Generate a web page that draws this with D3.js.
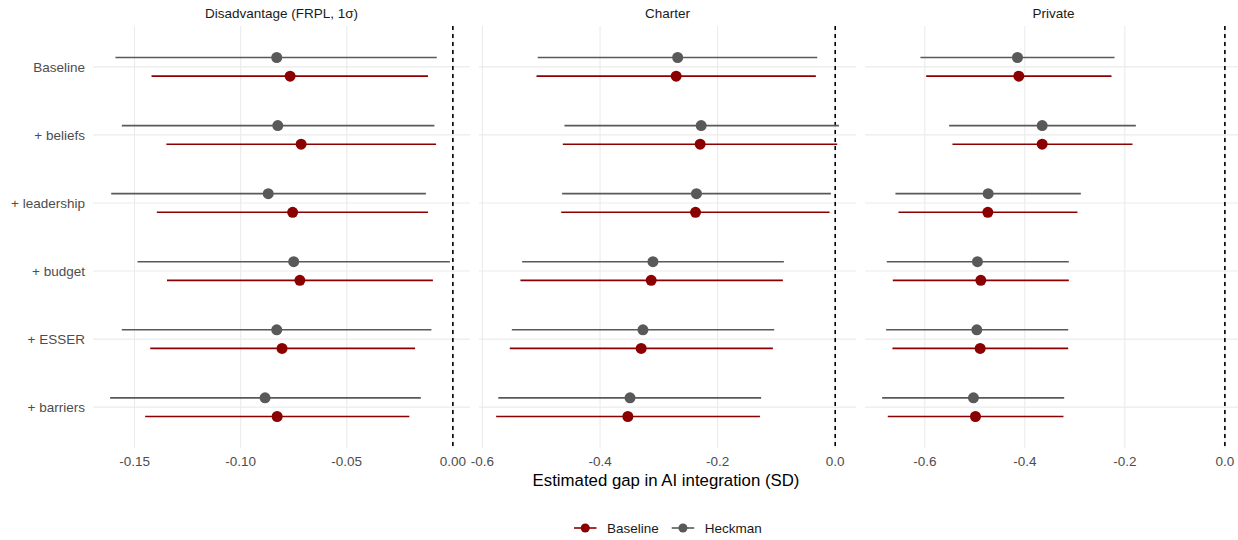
<!DOCTYPE html>
<html>
<head>
<meta charset="utf-8">
<script src="https://cdn.jsdelivr.net/npm/d3@7"></script>
<style>
  html, body { margin: 0; padding: 0; background: #ffffff; }
  svg { display: block; font-family: "Liberation Sans", Arial, sans-serif; }
</style>
</head>
<body>
<svg id="chart" width="1238" height="540"></svg>
<script>
// Model specifications, top to bottom
const models = ["Baseline", "+ beliefs", "+ leadership", "+ budget", "+ ESSER", "+ barriers"];
const panels = ["Disadvantage (FRPL, 1σ)", "Charter", "Private"];
const methods = ["Baseline", "Heckman"];
const methodColors = ["#8b0000", "#595959"];

// Tick values per panel
const ticksFRPL = [-0.15, -0.10, -0.05, 0.00];
const ticksCharter = [-0.6, -0.4, -0.2, 0.0];
const ticksPrivate = [-0.6, -0.4, -0.2, 0.0];

// Disadvantage (FRPL) estimates and 95% intervals
const frplBaseEst = [-0.0767, -0.0715, -0.0755, -0.0721, -0.0805, -0.0828];
const frplBaseLo  = [-0.142, -0.135, -0.1395, -0.1347, -0.1426, -0.145];
const frplBaseHi  = [-0.0117, -0.0079, -0.0117, -0.0094, -0.0178, -0.0205];
const frplHeckEst = [-0.083, -0.0825, -0.087, -0.075, -0.083, -0.0885];
const frplHeckLo  = [-0.159, -0.156, -0.161, -0.1486, -0.156, -0.1615];
const frplHeckHi  = [-0.0076, -0.0087, -0.0127, -0.0014, -0.0101, -0.0151];

// Charter estimates
const charterBaseEst = [-0.2705, -0.2297, -0.2376, -0.313, -0.330, -0.3527];
const charterBaseLo  = [-0.508, -0.4633, -0.466, -0.5354, -0.5535, -0.5767];
const charterBaseHi  = [-0.0329, 0.0034, -0.0096, -0.089, -0.106, -0.128];
const charterHeckEst = [-0.268, -0.228, -0.236, -0.310, -0.327, -0.349];
const charterHeckLo  = [-0.506, -0.4605, -0.4645, -0.5325, -0.550, -0.573];
const charterHeckHi  = [-0.0306, 0.0062, -0.0074, -0.0873, -0.1038, -0.126];

// Private estimates
const privateBaseEst = [-0.412, -0.3653, -0.474, -0.488, -0.4893, -0.4987];
const privateBaseLo  = [-0.5973, -0.5447, -0.6527, -0.664, -0.6647, -0.674];
const privateBaseHi  = [-0.2267, -0.1847, -0.2947, -0.312, -0.3133, -0.3227];
const privateHeckEst = [-0.4147, -0.3653, -0.4733, -0.4947, -0.496, -0.5027];
const privateHeckLo  = [-0.6087, -0.5513, -0.6587, -0.676, -0.6773, -0.6853];
const privateHeckHi  = [-0.2207, -0.178, -0.288, -0.312, -0.3133, -0.3213];

const xTitle = "Estimated gap in AI integration (SD)";

// Build long-format rows per panel
function rows(baseEst, baseLo, baseHi, heckEst, heckLo, heckHi) {
  const out = [];
  models.forEach((m, i) => {
    out.push({ model: m, method: "Baseline", est: baseEst[i], lo: baseLo[i], hi: baseHi[i] });
    out.push({ model: m, method: "Heckman", est: heckEst[i], lo: heckLo[i], hi: heckHi[i] });
  });
  return out;
}
const panelData = [
  { title: panels[0], ticks: ticksFRPL, fmt: ".2f",
    rows: rows(frplBaseEst, frplBaseLo, frplBaseHi, frplHeckEst, frplHeckLo, frplHeckHi) },
  { title: panels[1], ticks: ticksCharter, fmt: ".1f",
    rows: rows(charterBaseEst, charterBaseLo, charterBaseHi, charterHeckEst, charterHeckLo, charterHeckHi) },
  { title: panels[2], ticks: ticksPrivate, fmt: ".1f",
    rows: rows(privateBaseEst, privateBaseLo, privateBaseHi, privateHeckEst, privateHeckLo, privateHeckHi) }
];

const locale = d3.formatLocale({ decimal: ".", thousands: ",", grouping: [3], currency: ["", ""], minus: "-" });

const svg = d3.select("#chart");
const panelLeft = 93, panelWidth = 377, panelGap = 9;
const panelTop = 26, panelBottom = 448;

const y = d3.scalePoint().domain(models).range([panelTop, panelBottom]).padding(0.6);
const dodge = y.step() * 0.137;
const color = d3.scaleOrdinal().domain(methods).range(methodColors);
const offset = m => (m === "Heckman" ? -dodge : dodge);

// Y-axis labels (shared, left of first panel)
svg.append("g").selectAll("text").data(models).join("text")
  .attr("x", 85).attr("y", d => y(d)).attr("dy", "0.35em")
  .attr("text-anchor", "end").attr("font-size", 13.5).attr("fill", "#4d4d4d")
  .text(d => d);

panelData.forEach((p, i) => {
  const x0 = panelLeft + i * (panelWidth + panelGap);
  const lo = Math.min(0, d3.min(p.rows, d => d.lo));
  const hi = Math.max(0, d3.max(p.rows, d => d.hi));
  const pad = (hi - lo) * 0.05;
  const x = d3.scaleLinear().domain([lo - pad, hi + pad]).range([x0, x0 + panelWidth]);
  const g = svg.append("g");

  // gridlines
  g.selectAll(".vgrid").data(p.ticks).join("line")
    .attr("x1", d => x(d)).attr("x2", d => x(d))
    .attr("y1", panelTop).attr("y2", panelBottom)
    .attr("stroke", "#ebebeb").attr("stroke-width", 1.1);
  g.selectAll(".hgrid").data(models).join("line")
    .attr("x1", x0).attr("x2", x0 + panelWidth)
    .attr("y1", d => y(d)).attr("y2", d => y(d))
    .attr("stroke", "#ebebeb").attr("stroke-width", 1.1);

  // zero reference line
  g.append("line")
    .attr("x1", x(0)).attr("x2", x(0)).attr("y1", panelTop).attr("y2", panelBottom)
    .attr("stroke", "#000").attr("stroke-width", 1.6).attr("stroke-dasharray", "4,4");

  // intervals
  g.selectAll(".ci").data(p.rows).join("line")
    .attr("x1", d => x(d.lo)).attr("x2", d => x(d.hi))
    .attr("y1", d => y(d.model) + offset(d.method))
    .attr("y2", d => y(d.model) + offset(d.method))
    .attr("stroke", d => color(d.method)).attr("stroke-width", 1.6);

  // point estimates
  g.selectAll(".pt").data(p.rows).join("circle")
    .attr("cx", d => x(d.est)).attr("cy", d => y(d.model) + offset(d.method))
    .attr("r", 5.5).attr("fill", d => color(d.method));

  // x axis tick labels
  g.selectAll(".tick").data(p.ticks).join("text")
    .attr("x", d => x(d)).attr("y", 466)
    .attr("text-anchor", "middle").attr("font-size", 13.5).attr("fill", "#4d4d4d")
    .text(d => locale.format(p.fmt)(d));

  // strip title
  g.append("text")
    .attr("x", x0 + panelWidth / 2).attr("y", 18)
    .attr("text-anchor", "middle").attr("font-size", 13.5).attr("fill", "#1a1a1a")
    .text(p.title);
});

// x-axis title
svg.append("text")
  .attr("x", 666).attr("y", 486)
  .attr("text-anchor", "middle").attr("font-size", 16.8).attr("fill", "#000")
  .text(xTitle);

// legend
const legendX = [574, 671.7];
const legend = svg.append("g").selectAll("g").data(methods).join("g")
  .attr("transform", (d, i) => `translate(${legendX[i]},528)`);
legend.append("line").attr("x1", 0).attr("x2", 22.5).attr("y1", 0).attr("y2", 0)
  .attr("stroke", d => color(d)).attr("stroke-width", 1.6);
legend.append("circle").attr("cx", 11.25).attr("cy", 0).attr("r", 4.5)
  .attr("fill", d => color(d));
legend.append("text").attr("x", 33).attr("y", 0).attr("dy", "0.35em")
  .attr("font-size", 13.5).attr("fill", "#1a1a1a").text(d => d);
</script>
</body>
</html>
